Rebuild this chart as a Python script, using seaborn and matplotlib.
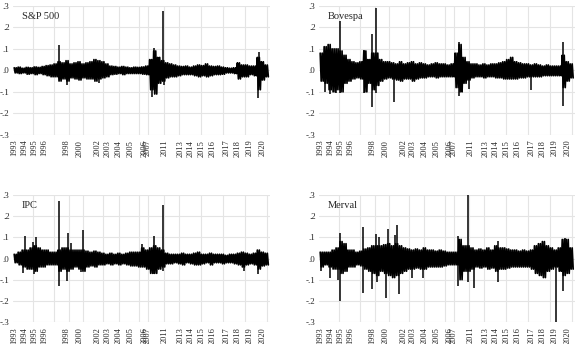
import numpy as np
import matplotlib
matplotlib.use("Agg")
import matplotlib.pyplot as plt
import seaborn as sns

# eksen: gozlem sirasi, 64 blok (yaklasik 1993-2020)
tick_pos = [0.2, 2.6, 5.1, 7.6, 13.1, 16.6, 21.0, 23.5, 26.3, 29.4, 32.8, 33.6,
            37.9, 41.9, 44.4, 47.0, 49.8, 53.3, 56.2, 59.1, 62.4]
tick_lab = ["1993", "1994", "1995", "1996", "1998", "2000", "2002", "2003", "2004",
            "2005", "2006", "2007", "2011", "2013", "2014", "2015", "2016", "2017",
            "2018", "2019", "2020"]
grid_pos = [4.75, 10.1, 13.9, 17.4, 22.4, 26.3, 31.5, 33.7, 37.6, 41.5, 46.9, 52.5,
            58.1, 63.6]
y_ticks = [-0.3, -0.2, -0.1, 0.0, 0.1, 0.2, 0.3]
y_labs = ["-.3", "-.2", "-.1", ".0", ".1", ".2", ".3"]

# getiri bandi: her blok icin ust ve alt deger
sp500_hi = [0.012, 0.015, 0.010, 0.014, 0.012, 0.016, 0.014, 0.018,
            0.022, 0.025, 0.030,
            0.040,
            0.035, 0.045, 0.030, 0.035, 0.040, 0.030, 0.035, 0.040, 0.050, 0.045,
            0.040, 0.030, 0.020, 0.018, 0.015, 0.018, 0.015, 0.012, 0.015, 0.014, 0.016, 0.020,
            0.050, 0.090, 0.060, 0.045, 0.035, 0.030,
            0.025, 0.020, 0.018, 0.020, 0.015, 0.020, 0.025, 0.022, 0.030, 0.020, 0.018, 0.020, 0.015,
            0.012, 0.010, 0.012,
            0.035, 0.025, 0.025, 0.020, 0.020,
            0.060, 0.040, 0.025]
sp500_lo = [-0.012, -0.015, -0.012, -0.018, -0.015, -0.020, -0.015, -0.020,
            -0.025, -0.030, -0.030,
            -0.050,
            -0.040, -0.050, -0.035, -0.040, -0.045, -0.035, -0.040, -0.040, -0.050, -0.040,
            -0.035, -0.030, -0.020, -0.018, -0.015, -0.020, -0.015, -0.015, -0.015, -0.015, -0.018, -0.020,
            -0.090, -0.110, -0.060, -0.050, -0.035, -0.030,
            -0.030, -0.025, -0.020, -0.020, -0.020, -0.025, -0.030, -0.025, -0.030, -0.025, -0.020, -0.020, -0.018,
            -0.012, -0.012, -0.015,
            -0.040, -0.030, -0.030, -0.020, -0.025,
            -0.090, -0.045, -0.030]
sp500_spk_x = [11.25, 13.25, 21.25, 34.75, 35.25, 37.5, 37.75, 61.25, 61.5]
sp500_spk_y = [0.12, -0.07, -0.06, -0.125, 0.105, 0.275, -0.07, -0.13, 0.085]

bov_hi = [0.08, 0.11, 0.12, 0.10, 0.10, 0.09,
          0.07, 0.05, 0.04, 0.035, 0.04,
          0.09, 0.05, 0.08,
          0.08, 0.05,
          0.04, 0.04,
          0.035, 0.03, 0.04, 0.03, 0.035, 0.04, 0.03, 0.035, 0.03, 0.025, 0.03, 0.035, 0.03, 0.03, 0.025, 0.03,
          0.08, 0.12, 0.06, 0.04,
          0.03, 0.03, 0.025, 0.03, 0.025, 0.03, 0.03, 0.035, 0.04, 0.05, 0.06, 0.04, 0.035, 0.03, 0.03,
          0.025, 0.03, 0.025, 0.02, 0.025, 0.02, 0.02, 0.02,
          0.07, 0.04, 0.03]
bov_lo = [-0.05, -0.06, -0.09, -0.10, -0.09, -0.10,
          -0.06, -0.05, -0.04, -0.035, -0.04,
          -0.10, -0.06, -0.09,
          -0.07, -0.05,
          -0.04, -0.035,
          -0.04, -0.045, -0.05, -0.04, -0.04, -0.05, -0.04, -0.035, -0.035, -0.03, -0.03, -0.035, -0.03, -0.03, -0.03, -0.03,
          -0.08, -0.10, -0.06, -0.045,
          -0.035, -0.03, -0.03, -0.035, -0.03, -0.03, -0.035, -0.035, -0.04, -0.04, -0.04, -0.04, -0.035, -0.035, -0.03,
          -0.03, -0.03, -0.03, -0.025, -0.025, -0.025, -0.025, -0.025,
          -0.08, -0.05, -0.035]
bov_spk_x = [5.0, 1.25, 2.5, 4.0, 5.0, 11.25, 11.25, 13.25, 13.25, 14.25, 14.25,
             18.75, 35.0, 35.0, 37.5, 53.25, 61.25, 61.25]
bov_spk_y = [0.23, -0.10, -0.11, -0.105, -0.105, 0.095, -0.105, 0.17, -0.17, 0.29, -0.105,
             -0.145, 0.13, -0.12, -0.085, -0.09, 0.13, -0.165]

ipc_hi = [0.02, 0.03, 0.04, 0.04, 0.05,
          0.06, 0.05, 0.04, 0.04, 0.03, 0.03,
          0.04, 0.05, 0.05, 0.04, 0.04, 0.04, 0.04,
          0.035, 0.03, 0.035, 0.03, 0.025, 0.02, 0.025, 0.02, 0.025, 0.02, 0.025, 0.03, 0.03, 0.03,
          0.05, 0.04, 0.05, 0.06,
          0.05, 0.04,
          0.025, 0.02, 0.02, 0.02, 0.025, 0.02, 0.02, 0.025, 0.03, 0.02, 0.02, 0.025, 0.02,
          0.02, 0.02, 0.015, 0.02, 0.02, 0.025, 0.03, 0.025, 0.02, 0.025, 0.04, 0.03, 0.025]
ipc_lo = [-0.02, -0.03, -0.04, -0.05, -0.05,
          -0.06, -0.04, -0.04, -0.03, -0.03, -0.03,
          -0.06, -0.05, -0.06, -0.05, -0.04, -0.05, -0.06,
          -0.04, -0.035, -0.04, -0.03, -0.03, -0.025, -0.03, -0.025, -0.03, -0.025, -0.03, -0.035, -0.035, -0.04,
          -0.04, -0.05, -0.07, -0.07,
          -0.05, -0.04,
          -0.025, -0.025, -0.02, -0.025, -0.03, -0.02, -0.025, -0.03, -0.03, -0.025, -0.02, -0.03, -0.02,
          -0.02, -0.025, -0.02, -0.02, -0.025, -0.03, -0.04, -0.03, -0.025, -0.03, -0.05, -0.035, -0.03]
ipc_spk_x = [2.75, 2.25, 4.75, 5.5, 5.0, 11.25, 11.25, 13.5, 13.25, 14.25, 17.25, 16.75,
             32.25, 35.25, 35.25, 37.5, 37.5, 57.75, 61.25]
ipc_spk_y = [0.105, -0.07, 0.08, 0.10, -0.075, 0.27, -0.13, 0.12, -0.105, 0.075, 0.135, -0.065,
             0.07, 0.105, -0.075, 0.255, -0.06, -0.06, -0.075]

mer_hi = [0.03, 0.03, 0.03, 0.04, 0.05,
          0.08, 0.07,
          0.04, 0.04, 0.03, 0.035,
          0.045, 0.05, 0.06, 0.06,
          0.06, 0.065, 0.07, 0.06, 0.07, 0.06, 0.05,
          0.045, 0.04, 0.045, 0.04, 0.05, 0.04, 0.04, 0.035, 0.04, 0.035, 0.03, 0.03, 0.03,
          0.09,
          0.06, 0.06, 0.05,
          0.04, 0.045, 0.04, 0.05, 0.04, 0.06, 0.05, 0.05, 0.045, 0.04, 0.04, 0.035, 0.04,
          0.035, 0.04, 0.06, 0.07, 0.08, 0.06, 0.05, 0.04, 0.05, 0.09, 0.09, 0.05]
mer_lo = [-0.04, -0.03, -0.04, -0.05, -0.05,
          -0.07, -0.06,
          -0.04, -0.04, -0.03, -0.035,
          -0.05, -0.06, -0.07, -0.08,
          -0.06, -0.07, -0.08, -0.09, -0.08, -0.07, -0.06,
          -0.05, -0.05, -0.045, -0.05, -0.05, -0.04, -0.04, -0.04, -0.04, -0.035, -0.03, -0.03, -0.03,
          -0.10,
          -0.06, -0.06, -0.05,
          -0.04, -0.045, -0.04, -0.05, -0.045, -0.06, -0.05, -0.05, -0.045, -0.04, -0.04, -0.04, -0.04,
          -0.04, -0.05, -0.07, -0.08, -0.09, -0.06, -0.05, -0.04, -0.06, -0.08, -0.07, -0.05]
mer_spk_x = [0.25, 2.5, 5.0, 5.0, 4.5, 11.0, 11.0, 14.25, 13.25, 14.5, 17.25, 16.75, 15.0,
             19.5, 20.0, 19.0, 23.25, 26.0, 34.75, 34.75, 37.25, 37.25, 38.75, 45.0, 45.0,
             59.5, 61.25, 61.75]
mer_spk_y = [-0.06, -0.09, 0.12, -0.20, -0.10, 0.15, -0.165, 0.115, -0.145, -0.11, 0.14, -0.185, 0.10,
             0.16, -0.17, 0.11, -0.09, -0.09, 0.105, -0.13, 0.30, -0.11, -0.14, 0.085, -0.11,
             -0.30, -0.155, 0.095]

panels = [("S&P 500", sp500_hi, sp500_lo, sp500_spk_x, sp500_spk_y),
          ("Bovespa", bov_hi, bov_lo, bov_spk_x, bov_spk_y),
          ("IPC", ipc_hi, ipc_lo, ipc_spk_x, ipc_spk_y),
          ("Merval", mer_hi, mer_lo, mer_spk_x, mer_spk_y)]

sns.set_style("white")
plt.rcParams["font.family"] = ["Liberation Serif", "DejaVu Serif"]

fig = plt.figure(figsize=(5.79, 3.44), dpi=100)
boxes = [[0.0225, 0.608, 0.444, 0.375],
         [0.551, 0.608, 0.442, 0.375],
         [0.0225, 0.064, 0.444, 0.369],
         [0.551, 0.064, 0.442, 0.369]]

for (name, hi, lo, sx, sy), box in zip(panels, boxes):
    ax = fig.add_axes(box)
    # her blok icin ust-alt arasi dikey cizgi (zigzag)
    xs, ys = [], []
    for i in range(len(hi)):
        xs += [i + 0.1, i + 0.35, i + 0.6, i + 0.85]
        ys += [hi[i], lo[i], hi[i], lo[i]]
    sns.lineplot(x=xs, y=ys, ax=ax, color="black", linewidth=1.25,
                 estimator=None, sort=False)
    ax.vlines(sx, 0, sy, color="black", linewidth=1.1, zorder=3)

    for g in grid_pos:
        ax.axvline(g, color="#e4e4e4", linewidth=0.8, zorder=0)
    for yv in y_ticks:
        ax.axhline(yv, color="#e4e4e4", linewidth=0.8, zorder=0)

    ax.set_xlim(-0.2, 64.3)
    ax.set_ylim(-0.3, 0.3)
    ax.set_yticks(y_ticks)
    ax.set_yticklabels(y_labs, fontsize=6.5)
    ax.set_xticks(tick_pos)
    ax.set_xticklabels(tick_lab, rotation=90, fontsize=6)
    ax.tick_params(length=0, pad=2.5)
    ax.tick_params(axis="x", pad=3.5)
    for s in ax.spines.values():
        s.set_visible(False)
    ax.set_xlabel("")
    ax.set_ylabel("")
    ax.text(0.035, 0.92, name, transform=ax.transAxes, fontsize=7.5, va="center")

fig.savefig("out.png", dpi=100)
